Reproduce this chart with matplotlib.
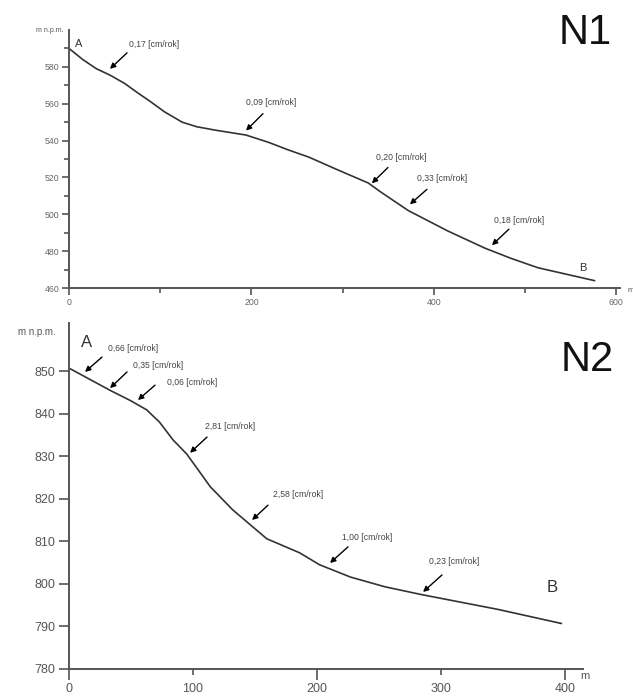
import matplotlib
matplotlib.use("Agg")
import matplotlib.pyplot as plt
import numpy as np

plt.rcParams['font.family'] = ['Liberation Sans', 'DejaVu Sans']

# ---------------- data ----------------
n1_dist = [0, 15, 30, 45, 61, 75, 88, 105, 124, 140, 161, 194, 219, 240, 263, 295, 328, 342, 372, 415, 456, 485, 514, 545, 576]
n1_elev = [590, 584, 579, 575.5, 571, 566, 561.6, 555.5, 550, 547.5, 545.6, 543, 539, 535, 531, 524, 517, 512, 502, 491, 481.6, 476, 471, 467.5, 464]

n2_dist = [0, 33, 50, 62.6, 73, 84, 95, 114, 132, 159.5, 186, 202, 227, 255, 284, 346, 397]
n2_elev = [850.7, 845.5, 843, 840.9, 838, 833.8, 830.5, 822.8, 817.4, 810.6, 807.3, 804.5, 801.6, 799.3, 797.5, 794, 790.7]

n1_rates = ["0,17", "0,09", "0,20", "0,33", "0,18"]
n1_text_xy = [(93.7, 592.4), (221.9, 560.5), (364.4, 530.8), (408.8, 519.5), (493.2, 496.8)]
n1_tail_xy = [(63.6, 587.6), (212.6, 554.6), (349.6, 525.4), (392.3, 513.5), (482.2, 491.9)]
n1_head_xy = [(44.9, 578.9), (194, 545.4), (332, 516.8), (373.7, 505.4), (463.6, 483.2)]

n2_rates = ["0,66", "0,35", "0,06", "2,81", "2,58", "1,00", "0,23"]
n2_text_xy = [(52, 855.4), (71.8, 851.4), (99.2, 847.4), (129.8, 836.9), (184.7, 820.9), (240.3, 811), (310.5, 805.2)]
n2_tail_xy = [(26.6, 853.3), (46.8, 849.8), (69.4, 846.7), (111.3, 834.5), (160.5, 818.5), (225, 808.7), (300.8, 802.1)]
n2_head_xy = [(12.9, 849.8), (33.1, 846), (55.6, 843.2), (97.6, 830.8), (147.6, 815), (210.5, 804.9), (285.5, 798.1)]

unit = " [cm/rok]"

W, H = 633, 697
fig = plt.figure(figsize=(W / 100, H / 100), dpi=100)

def px_axes(l, r, t, b):
    return fig.add_axes([l / W, (H - b) / H, (r - l) / W, (b - t) / H])

spine_c = "#555555"
line_c = "#333333"
tick_c = "#666666"
arrow_kw = dict(arrowstyle="-|>", color="black", lw=1.0, mutation_scale=8, shrinkA=0, shrinkB=0)

# ---------------- N1 ----------------
ax1 = px_axes(69, 620, 30, 288)
ax1.plot(n1_dist, n1_elev, color=line_c, lw=1.2)
ax1.set_xlim(0, 604)
ax1.set_ylim(460, 600)
for s in ["top", "right"]:
    ax1.spines[s].set_visible(False)
for s in ["left", "bottom"]:
    ax1.spines[s].set_color(spine_c)
    ax1.spines[s].set_linewidth(1.4)
ax1.set_xticks([0, 200, 400, 600])
ax1.set_xticks([100, 300, 500], minor=True)
ax1.set_yticks(np.arange(460, 581, 20))
ax1.set_yticks(np.arange(470, 600, 20), minor=True)
ax1.tick_params(which="major", length=5, width=1.2, color=spine_c, labelsize=6.3, labelcolor=tick_c, pad=2)
ax1.tick_params(which="minor", length=3.5, width=1.2, color=spine_c)
for (t, txy, tl, hd) in zip(n1_rates, n1_text_xy, n1_tail_xy, n1_head_xy):
    ax1.text(txy[0], txy[1], t + unit, fontsize=6.2, color="#444444", ha="center", va="center")
    ax1.annotate("", xy=hd, xytext=tl, arrowprops=arrow_kw)
ax1.text(11, 592.4, "A", fontsize=8, color="#333333", ha="center", va="center")
ax1.text(563.3, 470.8, "B", fontsize=8, color="#333333", ha="center", va="center")
ax1.text(565.5, 598.5, "N1", fontsize=30, color="#111111", ha="center", va="center", clip_on=False)
ax1.text(-20.8, 600, "m n.p.m.", fontsize=5, color="#555555", ha="center", va="center", clip_on=False)
ax1.text(616, 458.4, "m", fontsize=5.5, color="#555555", ha="center", va="center", clip_on=False)

# ---------------- N2 ----------------
ax2 = px_axes(69, 583, 323, 669)
ax2.plot(n2_dist, n2_elev, color=line_c, lw=1.2)
ax2.set_xlim(0, 414.5)
ax2.set_ylim(780, 861.3)
for s in ["top", "right"]:
    ax2.spines[s].set_visible(False)
for s in ["left", "bottom"]:
    ax2.spines[s].set_color(spine_c)
    ax2.spines[s].set_linewidth(1.4)
ax2.set_xticks([0, 200, 400])
ax2.set_xticks([100, 300], minor=True)
ax2.set_xticklabels(["0", "200", "400"])
ax2.set_xticklabels(["100", "300"], minor=True)
ax2.set_yticks(np.arange(780, 851, 10))
ax2.tick_params(axis="y", which="major", length=7, width=1.2, color=spine_c, labelsize=9, labelcolor="#555555", pad=3)
ax2.tick_params(axis="x", which="major", length=8, width=1.2, color=spine_c, labelsize=9, labelcolor="#555555", pad=2)
ax2.tick_params(axis="x", which="minor", length=4, width=1.2, color=spine_c, labelsize=9, labelcolor="#555555", pad=6)
for (t, txy, tl, hd) in zip(n2_rates, n2_text_xy, n2_tail_xy, n2_head_xy):
    ax2.text(txy[0], txy[1], t + unit, fontsize=6.2, color="#444444", ha="center", va="center")
    ax2.annotate("", xy=hd, xytext=tl, arrowprops=arrow_kw)
ax2.text(14.5, 856.8, "A", fontsize=12, color="#333333", ha="center", va="center")
ax2.text(389.5, 799.1, "B", fontsize=12, color="#333333", ha="center", va="center")
ax2.text(417.7, 852.6, "N2", fontsize=30, color="#111111", ha="center", va="center", clip_on=False)
ax2.text(-25.8, 859.2, "m n.p.m.", fontsize=7, color="#555555", ha="center", va="center", clip_on=False)
ax2.text(416, 778.4, "m", fontsize=8, color="#555555", ha="center", va="center", clip_on=False)

fig.savefig("out.png", dpi=100)
